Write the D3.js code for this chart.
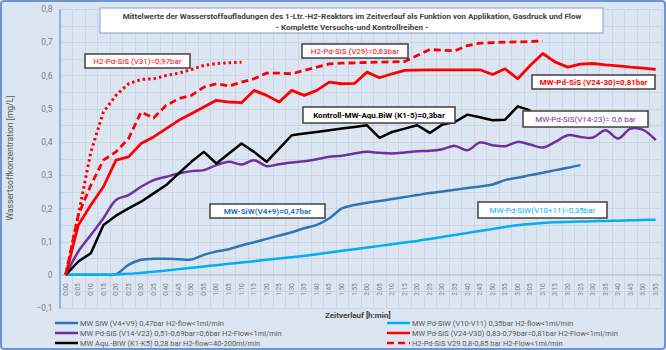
<!DOCTYPE html>
<html lang="de">
<head>
<meta charset="UTF-8">
<title>Wasserstoffaufladungen</title>
<script src="https://d3js.org/d3.v7.min.js"></script>
<style>
  body { margin: 0; background: #fff; }
  svg { display: block; font-family: Roboto, "Open Sans", sans-serif; }
</style>
</head>
<body>
<svg id="chart" width="666" height="350"></svg>
<script>
// time categories 0:00 .. 3:55 in 5-minute steps
var times = ["0:00","0:05","0:10","0:15","0:20","0:25","0:30","0:35","0:40","0:45","0:50","0:55",
             "1:00","1:05","1:10","1:15","1:20","1:25","1:30","1:35","1:40","1:45","1:50","1:55",
             "2:00","2:05","2:10","2:15","2:20","2:25","2:30","2:35","2:40","2:45","2:50","2:55",
             "3:00","3:05","3:10","3:15","3:20","3:25","3:30","3:35","3:40","3:45","3:50","3:55"];

var yTicks = [-0.1, 0, 0.1, 0.2, 0.3, 0.4, 0.5, 0.6, 0.7, 0.8];

// MW SiW (V4+V9) 0,47bar
var siw = [0, 0, 0, 0, 0.002, 0.03, 0.045, 0.048, 0.048, 0.047, 0.046, 0.06,
           0.07, 0.077, 0.088, 0.098, 0.108, 0.118, 0.128, 0.14, 0.15, 0.17,
           0.2, 0.21, 0.217, 0.222, 0.228, 0.234, 0.24, 0.246, 0.251, 0.256,
           0.261, 0.266, 0.272, 0.285, 0.292, 0.3, 0.307, 0.315, 0.322, 0.33];

// MW Pd-SiW (V10-V11) 0,35bar
var pdSiw = [0, 0, 0, 0, 0.001, 0.003, 0.006, 0.009, 0.013, 0.017, 0.021, 0.025,
             0.029, 0.033, 0.037, 0.041, 0.045, 0.049, 0.053, 0.057, 0.062, 0.067,
             0.072, 0.077, 0.082, 0.087, 0.092, 0.097, 0.102, 0.108, 0.114, 0.12,
             0.126, 0.132, 0.138, 0.144, 0.149, 0.153, 0.156, 0.158, 0.159, 0.16,
             0.161, 0.162, 0.163, 0.164, 0.165, 0.166];

// MW Pd-SiS (V14-V23) 0,6bar
var pdSis14 = [0, 0.07, 0.12, 0.17, 0.225, 0.24, 0.265, 0.285, 0.295, 0.305, 0.312, 0.315,
               0.33, 0.34, 0.332, 0.345, 0.327, 0.333, 0.338, 0.342, 0.348, 0.355,
               0.358, 0.365, 0.37, 0.367, 0.365, 0.368, 0.372, 0.373, 0.378, 0.388,
               0.375, 0.398, 0.39, 0.387, 0.4, 0.392, 0.383, 0.4, 0.42, 0.415,
               0.413, 0.435, 0.41, 0.44, 0.436, 0.405];

// MW Aqu.-BiW (K1-K5) 0,28bar
var aquBiw = [0, 0.04, 0.065, 0.15, 0.178, 0.2, 0.22, 0.245, 0.27, 0.305, 0.34, 0.37,
              0.335, 0.365, 0.395, 0.37, 0.34, 0.38, 0.42, 0.425, 0.43, 0.435,
              0.44, 0.445, 0.45, 0.412, 0.43, 0.44, 0.45, 0.427, 0.452, 0.46,
              0.482, 0.474, 0.465, 0.467, 0.507, 0.495];

// MW Pd-SiS (V24-V30) 0,81bar
var pdSis24 = [0, 0.15, 0.21, 0.265, 0.345, 0.355, 0.395, 0.415, 0.44, 0.465, 0.485, 0.505,
               0.525, 0.52, 0.518, 0.555, 0.54, 0.52, 0.555, 0.54, 0.555, 0.58,
               0.575, 0.576, 0.61, 0.593, 0.605, 0.615, 0.616, 0.617, 0.617, 0.617,
               0.617, 0.617, 0.603, 0.62, 0.59, 0.63, 0.666, 0.64, 0.625, 0.634,
               0.636, 0.632, 0.629, 0.625, 0.622, 0.618];

// H2-Pd-SiS V29 0,83bar
var h2V29 = [0, 0.18, 0.27, 0.345, 0.37, 0.41, 0.49, 0.472, 0.51, 0.53, 0.54, 0.565,
             0.575, 0.568, 0.58, 0.59, 0.607, 0.607, 0.605, 0.615, 0.625, 0.635,
             0.637, 0.638, 0.639, 0.64, 0.641, 0.642, 0.66, 0.678, 0.676, 0.674,
             0.69, 0.697, 0.699, 0.7, 0.701, 0.702, 0.704];

// H2-Pd-SiS V31 0,97bar
var h2V31 = [0, 0.18, 0.37, 0.49, 0.54, 0.575, 0.588, 0.59, 0.6, 0.607, 0.618, 0.63,
             0.636, 0.638, 0.64];

var series = [
  { name: "MW SiW (V4+V9) 0,47bar H2-flow<1ml/min", values: siw, color: "#2e75b6", width: 2.5, dash: null, smooth: true },
  { name: "MW Pd-SiW (V10-V11) 0,35bar H2-flow<1ml/min", values: pdSiw, color: "#00b0f0", width: 2.5, dash: null, smooth: true },
  { name: "MW Pd-SiS (V14-V23) 0,51-0,69bar=0,6bar H2-Flow<1ml/min", values: pdSis14, color: "#7030a0", width: 2.5, dash: null, smooth: true },
  { name: "MW Aqu.-BiW (K1-K5) 0,28 bar H2-flow=40-200ml/min", values: aquBiw, color: "#000000", width: 2.5, dash: null, smooth: false },
  { name: "MW Pd-SiS (V24-V30) 0,83-0,79bar=0,81bar H2-Flow<1ml/min", values: pdSis24, color: "#ff0000", width: 2.8, dash: null, smooth: false },
  { name: "H2-Pd-SiS V29 0,8-0,85 bar H2-Flow<1ml/min", values: h2V29, color: "#ff0000", width: 2.8, dash: "7,4", smooth: false },
  { name: "H2-Pd-SiS V31 0,97bar H2-Flow<1ml/min", values: h2V31, color: "#ff0000", width: 3, dash: "2.5,3", smooth: false }
];

var svg = d3.select("#chart");
var W = 666, H = 350;

// background + frame
svg.append("rect").attr("x", 1).attr("y", 1).attr("width", W - 2).attr("height", H - 2)
   .attr("rx", 3).attr("fill", "#dce6f2").attr("stroke", "#6f95d0").attr("stroke-width", 2);

var x = d3.scaleBand().domain(times).range([59.5, 662]);
var y = d3.scaleLinear().domain([-0.1, 0.8]).range([308, 9]);
var cx = function(i) { return x(times[i]) + x.bandwidth() / 2; };

// grid
var grid = svg.append("g");
grid.selectAll(".hg").data(d3.range(-0.1, 0.801, 0.05))
    .enter().append("line")
    .attr("x1", 59.5).attr("x2", 662)
    .attr("y1", function(d) { return Math.round(y(d)) + 0.5; })
    .attr("y2", function(d) { return Math.round(y(d)) + 0.5; })
    .attr("stroke", "#c9d3df").attr("stroke-width", 0.8);
grid.selectAll(".vg").data(times.slice(1).concat(["end"]))
    .enter().append("line")
    .attr("x1", function(d) { return d === "end" ? 662 : Math.round(x(d)) + 0.5; })
    .attr("x2", function(d) { return d === "end" ? 662 : Math.round(x(d)) + 0.5; })
    .attr("y1", y(0.8)).attr("y2", y(-0.1))
    .attr("stroke", "#c9d3df").attr("stroke-width", 0.8);

// zero line
svg.append("line").attr("x1", 59.5).attr("x2", 662).attr("y1", y(0)).attr("y2", y(0))
   .attr("stroke", "#b8c3d0").attr("stroke-width", 1);

// y axis
var yAxis = svg.append("g").attr("transform", "translate(59.5,0)")
   .call(d3.axisLeft(y).tickValues(yTicks).tickSize(0).tickPadding(7)
          .tickFormat(function(d) { return d === 0 ? "0" : d3.format(".1f")(d).replace(".", ","); }));
yAxis.select(".domain").attr("stroke", "#8db3e2").attr("stroke-width", 2);
yAxis.selectAll("text").attr("fill", "#7f7f7f").style("font-size", "8.5px")
     .style("font-family", "Roboto, sans-serif");

// x axis labels (rotated, below zero line)
var xAxis = svg.append("g").attr("transform", "translate(0," + y(0) + ")")
   .call(d3.axisBottom(x).tickSize(0).tickPadding(0));
xAxis.select(".domain").remove();
xAxis.selectAll("text")
     .attr("transform", "rotate(-90)")
     .attr("x", -21).attr("y", 0).attr("dy", "0.32em")
     .style("text-anchor", "start")
     .attr("fill", "#7f7f7f").style("font-size", "6.5px")
     .style("font-family", "Roboto, sans-serif");

// lines
var plot = svg.append("g");
series.forEach(function(s) {
  var line = d3.line()
      .x(function(d, i) { return cx(i); })
      .y(function(d) { return y(d); })
      .curve(s.smooth ? d3.curveCatmullRom.alpha(0.5) : d3.curveLinear);
  plot.append("path")
      .datum(s.values)
      .attr("fill", "none")
      .attr("stroke", s.color)
      .attr("stroke-width", s.width)
      .attr("stroke-linejoin", "round")
      .attr("stroke-dasharray", s.dash)
      .attr("d", line);
});

// title box
var tb = svg.append("g");
tb.append("rect").attr("x", 100).attr("y", 8).attr("width", 503).attr("height", 25)
  .attr("fill", "#fff").attr("stroke", "#7f9fd3").attr("stroke-width", 1);
tb.append("text").attr("x", 352).attr("y", 19).attr("text-anchor", "middle")
  .attr("fill", "#404040").style("font-size", "8px").style("font-weight", "bold")
  .text("Mittelwerte der Wasserstoffaufladungen des 1-Ltr.-H2-Reaktors im Zeitverlauf als Funktion von Applikation, Gasdruck und Flow");
tb.append("text").attr("x", 352).attr("y", 29.5).attr("text-anchor", "middle")
  .attr("fill", "#404040").style("font-size", "8px").style("font-weight", "bold")
  .text("- Komplette Versuchs-und Kontrollreihen -");

// annotation boxes
var notes = [
  { text: "H2-Pd-SiS (V31)=0,97bar", color: "#ff0000", bold: false, x: 85, y: 54, w: 105, h: 14 },
  { text: "H2-Pd-SiS (V29)=0,83bar", color: "#ff0000", bold: false, x: 302, y: 44, w: 106, h: 14 },
  { text: "MW-Pd-SiS (V24-30)=0,81bar", color: "#ff0000", bold: true, x: 532, y: 75, w: 123, h: 14 },
  { text: "Kontroll-MW-Aqu.BiW  (K1-5)=0,3bar", color: "#000000", bold: true, x: 303, y: 107, w: 152, h: 16 },
  { text: "MW-Pd-SiS(V14-23)= 0,6 bar", color: "#7030a0", bold: false, x: 523, y: 111, w: 125, h: 16 },
  { text: "MW-SiW(V4+9)=0,47bar", color: "#2e75b6", bold: true, x: 210, y: 204, w: 115, h: 14 },
  { text: "MW-Pd-SiW(V10+11)=0,35bar", color: "#00b0f0", bold: false, x: 478, y: 202, w: 129, h: 16 }
];
var ng = svg.append("g").selectAll("g").data(notes).enter().append("g");
ng.append("rect")
  .attr("x", function(d) { return d.x; }).attr("y", function(d) { return d.y; })
  .attr("width", function(d) { return d.w; }).attr("height", function(d) { return d.h; })
  .attr("fill", "#fff").attr("stroke", "#404040").attr("stroke-width", 1.5);
ng.append("text")
  .attr("x", function(d) { return d.x + d.w / 2; })
  .attr("y", function(d) { return d.y + d.h / 2; })
  .attr("dy", "0.35em").attr("text-anchor", "middle")
  .attr("fill", function(d) { return d.color; })
  .style("font-size", "8px")
  .style("font-weight", function(d) { return d.bold ? "bold" : "normal"; })
  .text(function(d) { return d.text; });

// axis titles
svg.append("text").attr("transform", "translate(13,158) rotate(-90)")
   .attr("text-anchor", "middle").attr("fill", "#595959")
   .style("font-size", "8.5px")
   .text("Wassertsoffkonzentration [mg/L]");
svg.append("text").attr("x", 325).attr("y", 318)
   .attr("fill", "#404040").style("font-size", "8px").style("font-weight", "bold")
   .text("Zeitverlauf [h:min]");

// legend: two columns of three
var legendItems = series.slice(0, 6);
var order = [0, 2, 3, 1, 4, 5];
var lg = svg.append("g").selectAll("g").data(order).enter().append("g")
   .attr("transform", function(d, k) {
     var col = k < 3 ? 0 : 1, row = k % 3;
     return "translate(" + (col ? 387 : 55) + "," + (323 + row * 10) + ")";
   });
lg.append("line").attr("x1", 0).attr("x2", 23).attr("y1", 0).attr("y2", 0)
  .attr("stroke", function(d) { return legendItems[d].color; })
  .attr("stroke-width", 2.5)
  .attr("stroke-dasharray", function(d) { return legendItems[d].dash; });
lg.append("text").attr("x", 25).attr("y", 0).attr("dy", "0.35em")
  .attr("fill", "#595959").style("font-size", "7.5px")
  .text(function(d) { return legendItems[d].name; });
</script>
</body>
</html>
